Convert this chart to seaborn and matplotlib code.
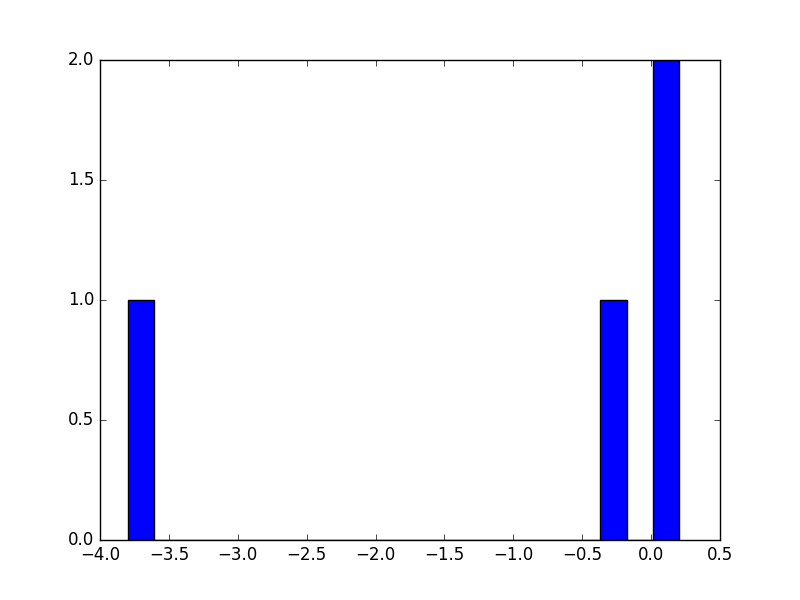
import matplotlib
matplotlib.use("Agg")
import matplotlib.pyplot as plt
import seaborn as sns
import pandas as pd

# ─── Data ─────────────────────────────────────────────────────────────────────
values = [-3.797, -0.285, 0.085, 0.203]
n_bins = 21

# ─── Plot ─────────────────────────────────────────────────────────────────────
plt.style.use("classic")
df = pd.DataFrame({"value": values})

fig, ax = plt.subplots(figsize=(8, 6), dpi=100)
sns.histplot(data=df, x="value", bins=n_bins, color="blue",
             edgecolor="black", linewidth=1.0, alpha=1.0, ax=ax)
ax.set_xlabel("")
ax.set_ylabel("")

fig.savefig("out.png", dpi=100)
plt.close(fig)
